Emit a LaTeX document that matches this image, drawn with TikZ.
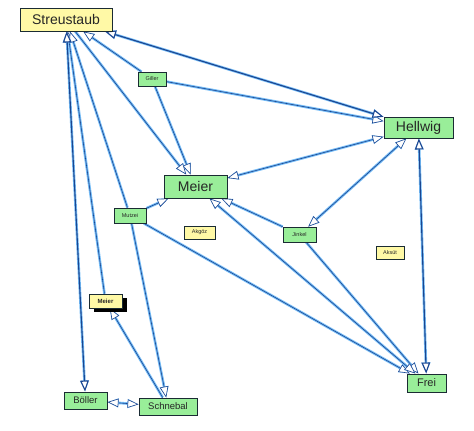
\documentclass[tikz,border=0pt]{standalone}
\usepackage{fontspec}
\setmainfont{Liberation Sans}
\usetikzlibrary{arrows.meta, backgrounds, shadows}
\definecolor{boxgreen}{HTML}{99EE99}
\definecolor{boxyellow}{HTML}{FFF9A6}
\definecolor{boxline}{HTML}{1A2B33}
\definecolor{linkglow}{HTML}{74BCF7}
\definecolor{linkcore}{HTML}{1C4690}
\tikzset{
  pbox/.style={
    draw=boxline,
    line width=0.9pt,
    inner sep=0pt,
    align=center,
    text=black!85,
  },
  % big names, medium names, small names
  pbig/.style={pbox, font=\fontsize{14}{14}\selectfont},
  pmid/.style={pbox, font=\fontsize{9.5}{9.5}\selectfont},
  psmall/.style={pbox, line width=0.7pt, font=\fontsize{5.5}{5.5}\selectfont},
  pgreen/.style={fill=boxgreen},
  pyellow/.style={fill=boxyellow},
  ptip/.tip={Triangle[fill=white, length=11pt, width=8.5pt]},
  plink/.style={
    draw=linkcore, line width=0.6pt, -ptip,
    preaction={draw=linkglow, line width=2.6pt},
  },
  pstrong/.style={line width=1.1pt},
}

\begin{document}
\begin{tikzpicture}[x=1pt, y=-1pt]
  \useasboundingbox (0,0) rectangle (474,431);

  \node[pbig, pyellow, minimum width=92pt, minimum height=23pt] (streu) at (66,19.5) {Streustaub};
  \node[psmall, pgreen, minimum width=28pt, minimum height=14pt] (giller) at (152,79) {Giller};
  \node[pbig, pgreen, minimum width=63pt, minimum height=23pt] (meier) at (195.5,186.5) {Meier};
  \node[psmall, pgreen, minimum width=32pt, minimum height=15pt] (mutzei) at (130,215.5) {Mutzei};
  \node[psmall, pyellow, minimum width=31pt, minimum height=13pt] (akgoez) at (199.5,232.5) {Akgöz};
  \node[pbig, pgreen, minimum width=69pt, minimum height=21pt] (hell) at (418.5,127.5) {Hellwig};
  \node[psmall, pgreen, minimum width=33pt, minimum height=15pt] (jinkel) at (299.5,234.5) {Jinkel};
  \node[psmall, pyellow, minimum width=28pt, minimum height=13pt] (aksuet) at (390,252.5) {Aksüt};
  \node[psmall, pyellow, minimum width=33pt, minimum height=14pt, font=\bfseries\fontsize{6}{6}\selectfont,
        drop shadow={shadow xshift=5pt, shadow yshift=-4pt, fill=black, opacity=1}] (meiersm) at (105.5,301) {Meier};
  \node[pmid, pgreen, minimum width=43pt, minimum height=17pt] (boeller) at (85.5,400.5) {Böller};
  \node[pmid, pgreen, minimum width=58pt, minimum height=17pt] (schneb) at (168,406.5) {Schnebal};
  \node[pmid, pgreen, minimum width=39pt, minimum height=18pt, font=\fontsize{11}{11}\selectfont] (frei) at (426.5,383) {Frei};

  \begin{scope}[on background layer]
    \fill[white] (0,0) rectangle (474,431);
    % one-way choices
    \foreach \a/\b in {giller/streu, giller/hell, giller/meier, streu/meier,
                       mutzei/meier, jinkel/meier, mutzei/frei, jinkel/frei,
                       meiersm/streu, mutzei/streu, mutzei/schneb, schneb/meiersm} {
      \draw[plink] (\a) -- (\b);
    }
    % mutual choices
    \foreach \a/\b in {meier/hell, meier/frei, hell/jinkel, boeller/schneb} {
      \draw[plink, ptip-ptip] (\a) -- (\b);
    }
    \foreach \a/\b in {streu/hell, streu/boeller, hell/frei} {
      \draw[plink, pstrong, ptip-ptip] (\a) -- (\b);
    }
  \end{scope}
\end{tikzpicture}
\end{document}
